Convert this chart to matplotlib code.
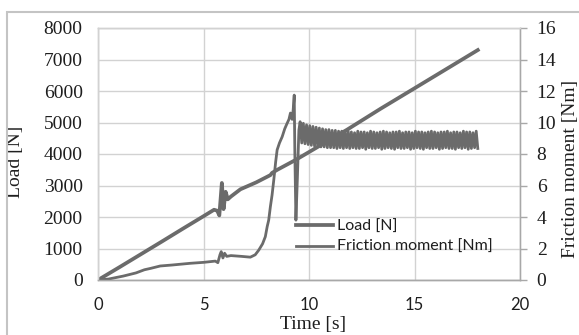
import matplotlib.pyplot as plt
from matplotlib.patches import Rectangle
import numpy as np

# Load [N] vs time [s]
load_t = [0, 1, 2, 3, 4, 5, 5.5, 5.65, 5.75, 5.87, 5.95, 6.05, 6.15, 6.3,
          6.75, 7.5, 8.17, 8.25, 8.5, 9.36, 11.8, 13.4, 15.06, 18.0]
load_n = [0, 400, 805, 1210, 1620, 2025, 2230, 2200, 2050, 3080, 2250, 2800,
          2560, 2650, 2880, 3100, 3330, 3400, 3500, 3810, 4770, 5440, 6110, 7300]

# Friction moment [Nm] before the stick-slip part
fric_t = [0, 0.5, 1.2, 1.8, 2.2, 2.5, 2.95, 3.5, 4.37, 5.0, 5.56, 5.68, 5.78,
          5.84, 5.92, 6.0, 6.1, 6.3, 6.8, 7.22, 7.45, 7.62, 7.8, 7.93, 8.02,
          8.09, 8.17, 8.25, 8.33, 8.42, 8.49, 8.6, 8.73, 8.85, 8.96, 9.05,
          9.12, 9.2, 9.25, 9.3, 9.33, 9.38, 9.45, 9.52]
fric_m = [0, 0.06, 0.25, 0.45, 0.65, 0.74, 0.89, 0.95, 1.06, 1.12, 1.2, 1.1,
          1.6, 1.8, 1.4, 1.7, 1.5, 1.55, 1.5, 1.45, 1.6, 1.9, 2.3, 2.75, 3.4,
          3.8, 4.66, 5.4, 6.34, 7.5, 8.26, 8.7, 9.1, 9.6, 9.94, 10.2, 10.6,
          10.2, 10.8, 11.74, 8.0, 3.8, 6.5, 9.5]

# Stick-slip oscillation: peaks and troughs [Nm], 9.6 s .. 18 s
osc_hi = [10.05, 9.95, 9.85, 9.8, 9.75, 9.7, 9.65, 9.6, 9.55, 9.55, 9.5, 9.5,
          9.45, 9.45, 9.4, 9.45, 9.4, 9.35, 9.45, 9.4, 9.4, 9.35, 9.45, 9.4,
          9.35, 9.4, 9.45, 9.4, 9.35, 9.4, 9.4, 9.45, 9.35, 9.4, 9.4, 9.35,
          9.45, 9.4, 9.4, 9.35, 9.4, 9.45, 9.4, 9.35, 9.4, 9.4, 9.45, 9.35,
          9.4, 9.4, 9.35, 9.45, 9.4, 9.4, 9.35, 9.45]
osc_lo = [8.7, 8.65, 8.6, 8.55, 8.5, 8.5, 8.45, 8.45, 8.4, 8.4, 8.4, 8.35,
          8.4, 8.35, 8.4, 8.35, 8.4, 8.35, 8.35, 8.4, 8.3, 8.4, 8.35, 8.35,
          8.4, 8.3, 8.35, 8.4, 8.35, 8.3, 8.4, 8.35, 8.35, 8.4, 8.3, 8.35,
          8.4, 8.35, 8.3, 8.4, 8.35, 8.35, 8.4, 8.3, 8.35, 8.4, 8.35, 8.35,
          8.3, 8.4, 8.35, 8.4, 8.3, 8.35, 8.4, 8.35]
osc_start, osc_end = 9.58, 18.0

line_col = '#6b6b6b'
grid_col = '#d2d2d2'
spine_col = '#a8a8a8'
text_col = '#1e1e1e'
serif = 'Liberation Serif'
sans = 'Lato'

# assemble friction series
osc_m = np.ravel(np.column_stack([osc_hi, osc_lo]))
osc_t = np.linspace(osc_start, osc_end, len(osc_m))
fric_all_t = np.concatenate([fric_t, osc_t])
fric_all_m = np.concatenate([fric_m, osc_m])

fig = plt.figure(figsize=(5.79, 3.35), dpi=100)
ax = fig.add_axes([98 / 579, 1 - 280 / 335, 422 / 579, 252 / 335])
ax2 = ax.twinx()

l1, = ax.plot(load_t, load_n, color=line_col, lw=2.7, solid_joinstyle='round')
l2, = ax2.plot(fric_all_t, fric_all_m, color=line_col, lw=2.0,
               solid_joinstyle='round')

ax.set_xlim(0, 20)
ax.set_ylim(0, 8000)
ax2.set_ylim(0, 16)
ax.set_xticks([0, 5, 10, 15, 20])
ax.set_yticks(range(0, 8001, 1000))
ax2.set_yticks(range(0, 17, 2))

ax.grid(True, color=grid_col, lw=1)
ax.set_axisbelow(True)

for a in (ax, ax2):
    for s in a.spines.values():
        s.set_color(grid_col)
        s.set_linewidth(1)
ax.spines['bottom'].set_color(spine_col)
ax2.spines['bottom'].set_color(spine_col)
ax2.spines['right'].set_color(spine_col)

ax.tick_params(axis='y', length=0, pad=11, labelsize=14, labelcolor=text_col)
ax.tick_params(axis='x', length=0, pad=12, labelsize=12, labelcolor=text_col)
ax2.tick_params(axis='y', length=5, width=1, color=spine_col, direction='out',
                pad=7, labelsize=14, labelcolor=text_col)
for lab in ax.get_yticklabels() + ax2.get_yticklabels():
    lab.set_fontfamily(serif)
for lab in ax.get_xticklabels():
    lab.set_fontfamily(sans)

ax.set_xlabel('Time [s]', fontfamily=serif, fontsize=14, color=text_col)
ax.xaxis.set_label_coords(0.51, -0.142)
ax.set_ylabel('Load [N]', fontfamily=serif, fontsize=14, color=text_col)
ax.yaxis.set_label_coords(-0.176, 0.47)
ax2.set_ylabel('Friction moment [Nm]', fontfamily=serif, fontsize=14,
               color=text_col, rotation=90)
ax2.yaxis.set_label_coords(1.1, 0.44)

leg = ax2.legend([l1, l2], ['Load [N]', 'Friction moment [Nm]'],
                 loc='upper left', bbox_to_anchor=(0.469, 0.24),
                 frameon=False, borderpad=0, borderaxespad=0,
                 handlelength=2.3, handletextpad=0.3, labelspacing=0.4,
                 prop={'family': sans, 'size': 11.5})
for t in leg.get_texts():
    t.set_color(text_col)

# outer chart border
fig.patches.append(Rectangle((7 / 579, -0.1), 1.2, 1 - 12 / 335 + 0.1,
                             transform=fig.transFigure, fill=False,
                             edgecolor='#c4c4c4', lw=1.5))

fig.savefig('out.png', dpi=100)
